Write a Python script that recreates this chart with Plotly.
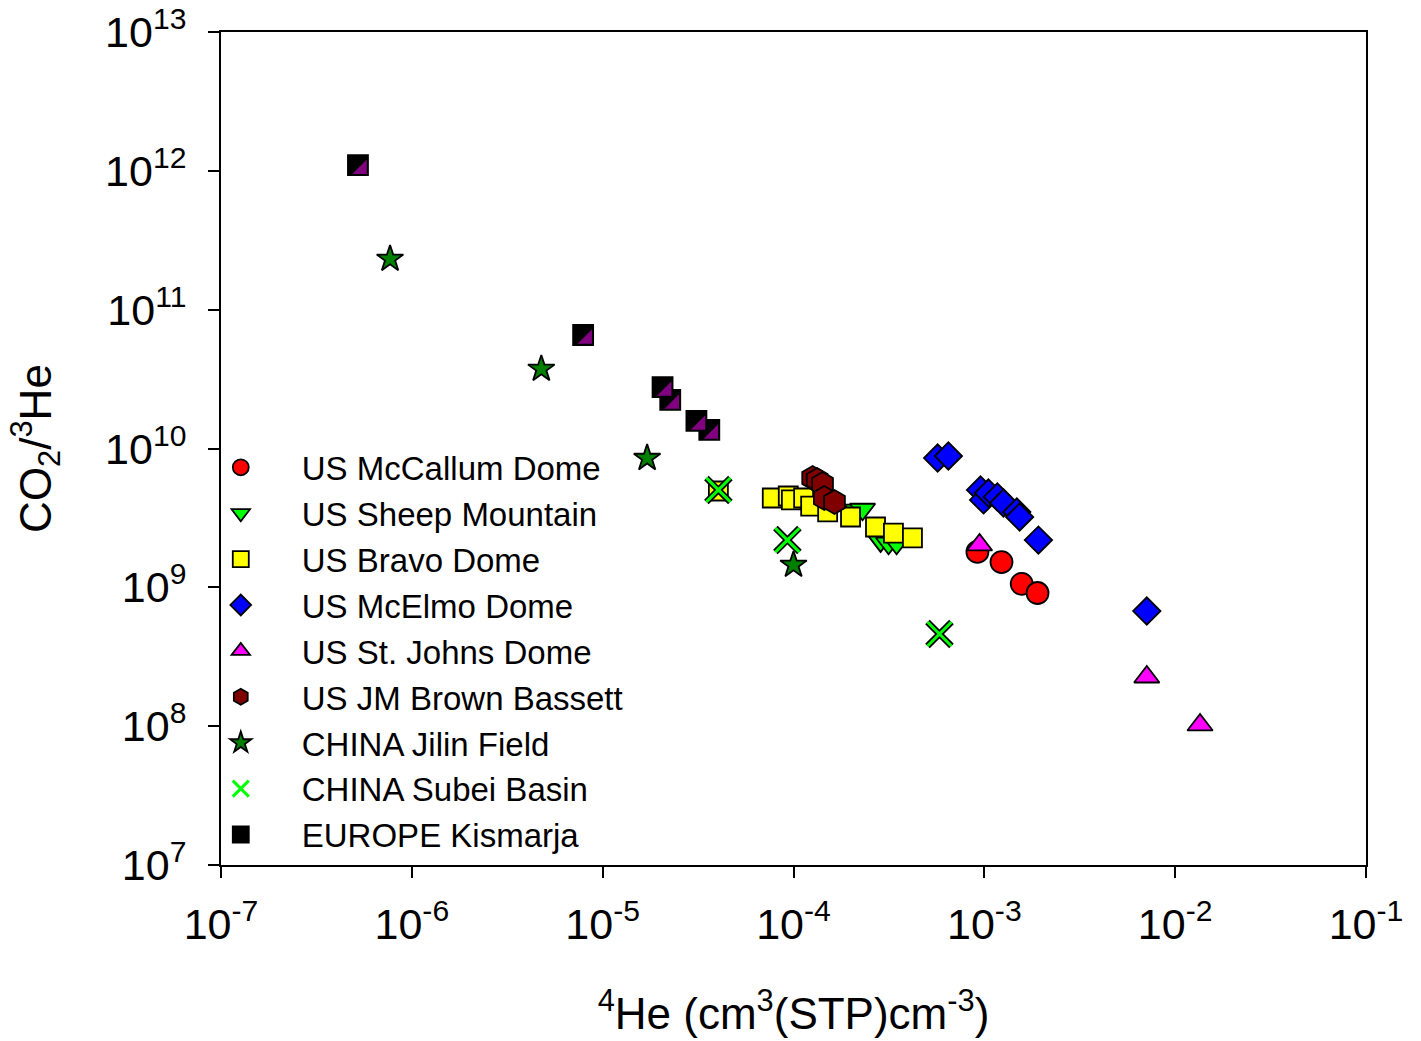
import plotly.graph_objects as go

# ---------------- data ----------------
mccallum_x = [9.20e-4, 1.23e-3, 1.57e-3, 1.90e-3]
mccallum_y = [1.80e9, 1.52e9, 1.06e9, 9.10e8]

sheep_x = [2.16e-4, 2.30e-4, 2.86e-4, 3.15e-4, 3.47e-4]
sheep_y = [3.60e9, 3.65e9, 2.16e9, 2.08e9, 2.08e9]

bravo_x = [4.04e-5, 7.74e-5, 9.39e-5, 9.75e-5, 1.13e-4, 1.23e-4, 1.51e-4, 1.99e-4, 2.69e-4, 3.34e-4, 4.20e-4]
bravo_y = [4.94e9, 4.40e9, 4.55e9, 4.26e9, 4.40e9, 3.85e9, 3.49e9, 3.21e9, 2.72e9, 2.46e9, 2.27e9]

mcelmo_x = [5.69e-4, 6.48e-4, 9.55e-4, 9.91e-4, 1.05e-3, 1.17e-3, 1.26e-3, 1.48e-3, 1.53e-3, 1.92e-3, 7.10e-3]
mcelmo_y = [8.54e9, 8.83e9, 5.03e9, 4.26e9, 4.78e9, 4.48e9, 4.05e9, 3.49e9, 3.21e9, 2.19e9, 6.75e8]

stjohns_x = [9.44e-4, 7.10e-3, 1.35e-2]
stjohns_y = [2.02e9, 2.26e8, 1.02e8]

jmbrown_x = [1.26e-4, 1.33e-4, 1.42e-4, 1.45e-4, 1.64e-4]
jmbrown_y = [6.13e9, 5.93e9, 5.55e9, 4.40e9, 4.12e9]

jilin_x = [7.69e-7, 4.77e-6, 1.71e-5, 1.00e-4]
jilin_y = [2.32e11, 3.74e10, 8.53e9, 1.45e9]

subei_x = [4.04e-5, 9.29e-5, 5.82e-4]
subei_y = [5.03e9, 2.19e9, 4.61e8]

kismarja_x = [5.22e-7, 7.90e-6, 2.06e-5, 2.26e-5, 3.10e-5, 3.62e-5]
kismarja_y = [1.10e12, 6.57e10, 2.77e10, 2.24e10, 1.58e10, 1.36e10]

x_tick_vals = [1e-7, 1e-6, 1e-5, 1e-4, 1e-3, 1e-2, 1e-1]
x_tick_text = ["10<sup>-7</sup>", "10<sup>-6</sup>", "10<sup>-5</sup>", "10<sup>-4</sup>",
               "10<sup>-3</sup>", "10<sup>-2</sup>", "10<sup>-1</sup>"]
y_tick_vals = [1e7, 1e8, 1e9, 1e10, 1e11, 1e12, 1e13]
y_tick_text = ["10<sup>7</sup>", "10<sup>8</sup>", "10<sup>9</sup>", "10<sup>10</sup>",
               "10<sup>11</sup>", "10<sup>12</sup>", "10<sup>13</sup>"]

x_title = "<sup>4</sup>He (cm<sup>3</sup>(STP)cm<sup>-3</sup>)"
y_title = "CO<sub>2</sub>/<sup>3</sup>He"

FONT = "Liberation Sans, Arial, sans-serif"
LW = 1.8

fig = go.Figure()


def add(x, y, name, symbol, color, size, rank, **kw):
    fig.add_trace(go.Scatter(
        x=x, y=y, mode="markers", name=name, legendrank=rank,
        marker=dict(symbol=symbol, color=color, size=size,
                    line=dict(color="black", width=LW)),
        **kw))


# draw order (bottom to top) roughly follows the reference overlaps
add(sheep_x, sheep_y, "US Sheep Mountain", "triangle-down", "#00FF00", 22, 2)
add(bravo_x, bravo_y, "US Bravo Dome", "square", "#FFFF00", 19, 3)
add(jmbrown_x, jmbrown_y, "US JM Brown Bassett", "hexagon", "#800000", 24, 6)
add(mccallum_x, mccallum_y, "US McCallum Dome", "circle", "#FF0000", 22, 1)
add(stjohns_x, stjohns_y, "US St. Johns Dome", "triangle-up", "#FF00FF", 22, 5)
add(mcelmo_x, mcelmo_y, "US McElmo Dome", "diamond", "#0000FF", 21, 4)
add(jilin_x, jilin_y, "CHINA Jilin Field", "star", "#008000", 20, 7)

# Subei: thin green cross with a black outline (two stacked thin crosses)
fig.add_trace(go.Scatter(
    x=subei_x, y=subei_y, mode="markers", showlegend=False, hoverinfo="skip",
    marker=dict(symbol="x-thin", size=24, color="black", line=dict(color="black", width=6.5))))
fig.add_trace(go.Scatter(
    x=subei_x, y=subei_y, mode="markers", name="CHINA Subei Basin", legendrank=8,
    marker=dict(symbol="x-thin", size=24, color="#00FF00", line=dict(color="#00FF00", width=3))))

add(kismarja_x, kismarja_y, "EUROPE Kismarja", "square", "black", 20, 9)
# purple lower-right half of the Kismarja marker, on a slightly offset overlay axis
fig.add_trace(go.Scatter(
    x=kismarja_x, y=kismarja_y, mode="markers", showlegend=False,
    xaxis="x2", yaxis="y2", hoverinfo="skip",
    marker=dict(symbol="triangle-se", color="#800080", size=16, line=dict(width=0))))

PX_DEC_X = 1145 / 6.0
PX_DEC_Y = 833 / 6.0
dx = 4 / PX_DEC_X
dy = 4 / PX_DEC_Y

axis_common = dict(
    type="log", showgrid=False, zeroline=False, automargin=False,
    showline=True, linecolor="black", linewidth=2, mirror=True,
    ticks="outside", ticklen=11, tickwidth=2, tickcolor="black",
    ticklabeloverflow="allow",
    tickfont=dict(family=FONT, size=43, color="black"),
    title_font=dict(family=FONT, size=44, color="black"),
)

fig.update_layout(
    width=1421, height=1041,
    margin=dict(l=221, r=55, t=32, b=176, autoexpand=False),
    paper_bgcolor="white", plot_bgcolor="white",
    font=dict(family=FONT, color="black"),
    showlegend=True,
    legend=dict(
        x=-0.036, y=0.511, xanchor="left", yanchor="top",
        bgcolor="rgba(0,0,0,0)", borderwidth=0,
        font=dict(family=FONT, size=33, color="black"),
        itemwidth=112, itemsizing="trace",
        tracegroupgap=0,
    ),
    xaxis=dict(range=[-7, -1], tickvals=x_tick_vals, ticktext=x_tick_text,
               title=dict(text=x_title, standoff=52), ticklabelstandoff=9,
               **axis_common),
    yaxis=dict(range=[7, 13], tickvals=y_tick_vals, ticktext=y_tick_text,
               title=dict(text=y_title, standoff=40), ticklabelstandoff=13,
               **axis_common),
    xaxis2=dict(type="log", overlaying="x", range=[-7 - dx, -1 - dx], visible=False,
                anchor="y"),
    yaxis2=dict(type="log", overlaying="y", range=[7 + dy, 13 + dy], visible=False,
                anchor="x"),
)

# remove the default page margin so the figure fills the window exactly
fig.write_html("out.html",
               config={"displayModeBar": False},
               post_script="document.body.style.margin='0px';document.body.style.overflow='hidden';")
